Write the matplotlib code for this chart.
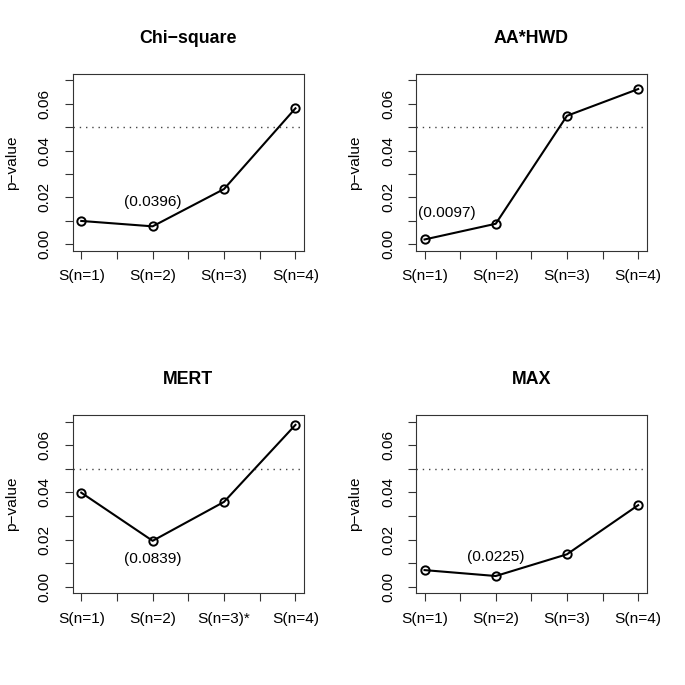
import numpy as np
import matplotlib
matplotlib.use("Agg")
import matplotlib.pyplot as plt

plt.rcParams['font.family'] = ['Liberation Sans', 'DejaVu Sans']

# values
steps = [1, 2, 3, 4]
titles = ["Chi\u2212square", "AA*HWD", "MERT", "MAX"]
chisq = [0.0100, 0.0077, 0.0236, 0.0580]
aahwd = [0.0021, 0.0088, 0.0548, 0.0662]
mert = [0.0399, 0.0195, 0.0360, 0.0686]
maxt = [0.0071, 0.0046, 0.0138, 0.0346]
notes = ["(0.0396)", "(0.0097)", "(0.0839)", "(0.0225)"]
xlabels = [["S(n=1)", "S(n=2)", "S(n=3)", "S(n=4)"],
           ["S(n=1)", "S(n=2)", "S(n=3)", "S(n=4)"],
           ["S(n=1)", "S(n=2)", "S(n=3)*", "S(n=4)"],
           ["S(n=1)", "S(n=2)", "S(n=3)", "S(n=4)"]]
cutoff = 0.05

series = [chisq, aahwd, mert, maxt]
# where each note sits (x, y in data units)
note_pos = [(2.0, 0.0180), (1.31, 0.0132), (2.0, 0.0117), (2.0, 0.0128)]

fs = 11.1
fig = plt.figure(figsize=(6.85, 6.85), dpi=100)
boxes = [[0.1061, 0.6336, 0.3377, 0.2590],
         [0.6073, 0.6336, 0.3368, 0.2590],
         [0.1061, 0.1336, 0.3377, 0.2606],
         [0.6073, 0.1336, 0.3368, 0.2606]]

for i in range(4):
    ax = fig.add_axes(boxes[i])
    ax.plot(steps, series[i], color='black', lw=1.5, marker='o', ms=6,
            mfc='none', mec='black', mew=1.4)
    ax.axhline(cutoff, color='#444444', lw=1, linestyle=(0, (1, 3.5)))
    ax.text(note_pos[i][0], note_pos[i][1], notes[i], fontsize=fs,
            ha='center', va='center')
    ax.set_xlim(0.88, 4.12)
    ax.set_ylim(-0.0028, 0.0728)
    ax.set_xticks(np.arange(1, 4.01, 0.5))
    ax.set_xticklabels([xlabels[i][0], "", xlabels[i][1], "", xlabels[i][2], "",
                        xlabels[i][3]], fontsize=fs)
    ax.set_yticks(np.arange(0, 0.0701, 0.01))
    ax.set_yticklabels(["0.00", "", "0.02", "", "0.04", "", "0.06", ""],
                       fontsize=fs, rotation=90, va='center')
    ax.tick_params(axis='x', length=6, width=0.8, pad=7, color='#333333')
    ax.tick_params(axis='y', length=6, width=0.8, pad=9, color='#333333')
    for s in ax.spines.values():
        s.set_linewidth(0.8)
        s.set_color('#333333')
    ax.set_ylabel("p\u2212value", fontsize=fs, va='center')
    ax.yaxis.set_label_coords(-0.264, 0.5)
    ax.set_title(titles[i], fontsize=fs * 1.15, fontweight='bold', pad=22)

fig.savefig("out.png", dpi=100)
